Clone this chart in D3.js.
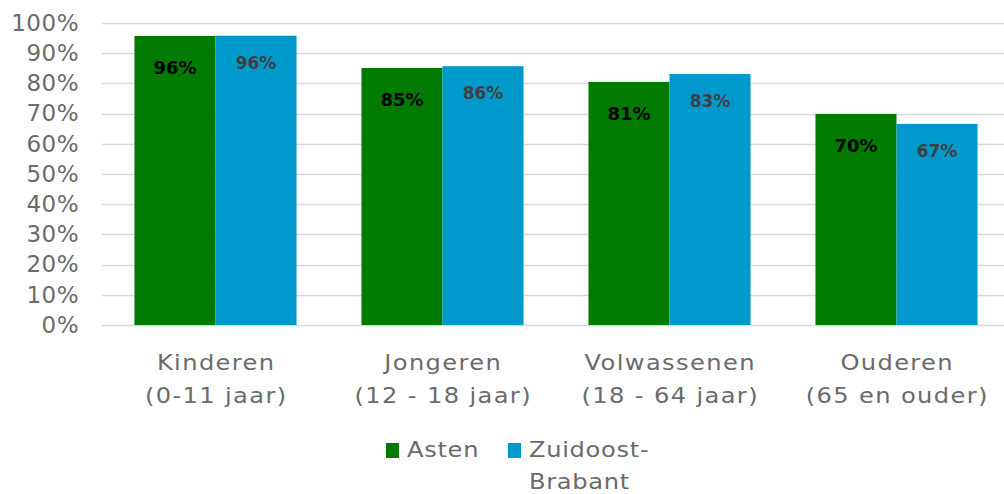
<!DOCTYPE html>
<html>
<head>
<meta charset="utf-8">
<script src="https://cdn.jsdelivr.net/npm/d3@7"></script>
<style>
  body { margin: 0; background: #fff; }
  text { font-family: "DejaVu Sans", Verdana, sans-serif; }
</style>
</head>
<body>
<div id="graph"></div>
<script>
// data
var categories = [
    ["Kinderen", "(0-11 jaar)"],
    ["Jongeren", "(12 - 18 jaar)"],
    ["Volwassenen", "(18 - 64 jaar)"],
    ["Ouderen", "(65 en ouder)"]
];
var seriesNames = ["Asten", "Zuidoost-Brabant"];
var asten = [0.957, 0.851, 0.805, 0.699];
var zob = [0.958, 0.857, 0.831, 0.666];
var yTicks = [0, 0.1, 0.2, 0.3, 0.4, 0.5, 0.6, 0.7, 0.8, 0.9, 1];

var colors = ["#007a00", "#0099cc"];

var width = 1004, height = 494;
var stretch = 1.15; // excel's verdana is wider than dejavu

var svg = d3.select("#graph").append("svg")
    .attr("width", width)
    .attr("height", height);

var x0 = d3.scaleBand()
    .domain(d3.range(categories.length))
    .range([102, 1010])
    .paddingInner(0.286)
    .paddingOuter(0.143);

var x1 = d3.scaleBand()
    .domain(d3.range(seriesNames.length))
    .range([0, x0.bandwidth()]);

var y = d3.scaleLinear()
    .domain([0, 1])
    .range([325, 23]);

// gridlines
svg.append("g")
    .selectAll("line")
    .data(yTicks)
    .enter().append("line")
    .attr("x1", 102)
    .attr("x2", width)
    .attr("y1", function (d) { return Math.round(y(d)) + 0.5; })
    .attr("y2", function (d) { return Math.round(y(d)) + 0.5; })
    .attr("stroke", "#d9d9d9")
    .attr("stroke-width", 1.5);

// y axis
var yAxis = d3.axisLeft(y)
    .tickValues(yTicks)
    .tickFormat(d3.format(".0%"))
    .tickSize(0)
    .tickPadding(0);

svg.append("g")
    .attr("transform", "translate(79,0)")
    .call(yAxis)
    .call(function (g) { g.select(".domain").remove(); })
    .selectAll("text")
    .style("font-family", "'DejaVu Sans', Verdana, sans-serif")
    .style("font-size", "23px")
    .style("letter-spacing", "0.5px")
    .attr("fill", "#6b6b6b");

var rows = categories.map(function (c, i) {
    return [asten[i], zob[i]];
});

var groups = svg.append("g")
    .selectAll("g")
    .data(rows)
    .enter().append("g")
    .attr("transform", function (d, i) { return "translate(" + x0(i) + ",0)"; });

groups.selectAll("rect")
    .data(function (d) { return d; })
    .enter().append("rect")
    .attr("x", function (d, j) { return x1(j); })
    .attr("y", function (d) { return y(d); })
    .attr("width", x1.bandwidth())
    .attr("height", function (d) { return y(0) - y(d); })
    .attr("fill", function (d, j) { return colors[j]; });

// value labels
groups.selectAll("text")
    .data(function (d) { return d; })
    .enter().append("text")
    .attr("x", function (d, j) { return x1(j) + x1.bandwidth() / 2; })
    .attr("y", function (d, j) { return y(d) + (j === 0 ? 38 : 33); })
    .attr("text-anchor", "middle")
    .style("font-size", function (d, j) { return j === 0 ? "18px" : "17px"; })
    .style("font-weight", "bold")
    .attr("fill", function (d, j) { return j === 0 ? "#000" : "#404040"; })
    .text(function (d) { return d3.format(".0%")(d); });

// category labels
var xAxis = svg.append("g")
    .selectAll("text")
    .data(categories)
    .enter().append("text")
    .attr("transform", function (d, i) {
        return "translate(" + (x0(i) + x0.bandwidth() / 2 + 0.7) + ",370) scale(" + stretch + ",1)";
    })
    .attr("text-anchor", "middle")
    .style("font-size", "21px")
    .style("letter-spacing", "1.2px")
    .attr("fill", "#6b6b6b");

xAxis.selectAll("tspan")
    .data(function (d) { return d; })
    .enter().append("tspan")
    .attr("x", 0)
    .attr("dy", function (d, k) { return k === 0 ? 0 : 33; })
    .text(function (d) { return d; });

// legend
var legend = svg.append("g");
var legendItems = [
    { x: 386, lines: ["Asten"] },
    { x: 508, lines: ["Zuidoost-", "Brabant"] }
];

legendItems.forEach(function (item, i) {
    legend.append("rect")
        .attr("x", item.x)
        .attr("y", 443)
        .attr("width", 13)
        .attr("height", 15)
        .attr("fill", colors[i]);
    var t = legend.append("text")
        .attr("transform", "translate(" + (item.x + 21) + ",457) scale(" + stretch + ",1)")
        .style("font-size", "21px")
        .style("letter-spacing", "0.6px")
        .attr("fill", "#6b6b6b");
    item.lines.forEach(function (line, k) {
        t.append("tspan")
            .attr("x", 0)
            .attr("dy", k === 0 ? 0 : 32)
            .text(line);
    });
});
</script>
</body>
</html>
